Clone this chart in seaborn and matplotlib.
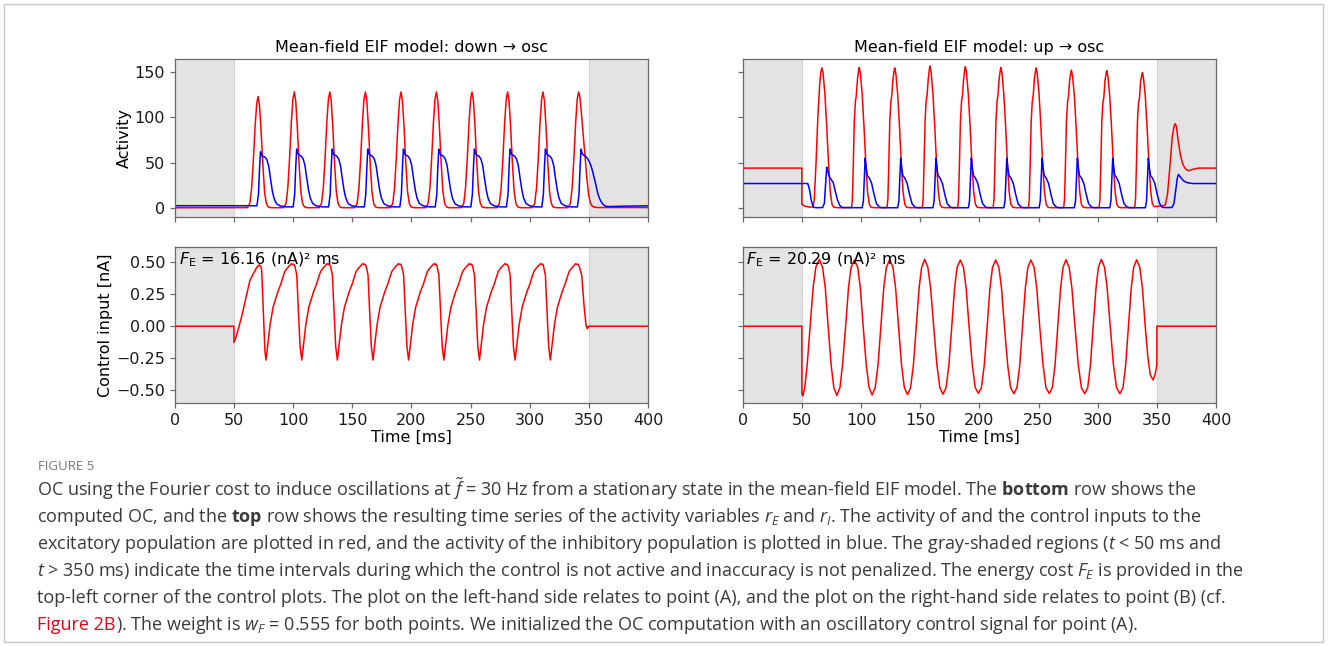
import matplotlib.pyplot as plt
import seaborn as sns
from matplotlib.patches import Rectangle

# ---------------- data (time in ms) ----------------
# top-left: excitatory activity r_E (red), down -> osc
eL_t = [0, 61.4, 63.4, 64.9, 66.4, 67.9, 69.2, 70.4, 71.6, 72.9, 74.4, 75.9, 77.4, 78.9, 81.4,
        92.0, 94.0, 95.5, 97.0, 98.5, 99.8, 101.0, 102.2, 103.5, 105.0, 106.5, 108.0, 109.5, 112.0,
        122.0, 124.0, 125.5, 127.0, 128.5, 129.8, 131.0, 132.2, 133.5, 135.0, 136.5, 138.0, 139.5, 142.0,
        152.1, 154.1, 155.6, 157.1, 158.6, 159.9, 161.1, 162.3, 163.6, 165.1, 166.6, 168.1, 169.6, 172.1,
        182.2, 184.2, 185.7, 187.2, 188.7, 190.0, 191.2, 192.4, 193.7, 195.2, 196.7, 198.2, 199.7, 202.2,
        212.1, 214.1, 215.6, 217.1, 218.6, 219.9, 221.1, 222.3, 223.6, 225.1, 226.6, 228.1, 229.6, 232.1,
        242.2, 244.2, 245.7, 247.2, 248.7, 250.0, 251.2, 252.4, 253.7, 255.2, 256.7, 258.2, 259.7, 262.2,
        272.3, 274.3, 275.8, 277.3, 278.8, 280.1, 281.3, 282.5, 283.8, 285.3, 286.8, 288.3, 289.8, 292.3,
        302.2, 304.2, 305.7, 307.2, 308.7, 310.0, 311.2, 312.4, 313.7, 315.2, 316.7, 318.2, 319.7, 322.2,
        332.3, 334.3, 335.8, 337.3, 338.8, 340.1, 341.3, 342.5, 343.8, 345.3, 346.8, 348.3, 349.8, 351.3,
        353.0, 355.0, 358.0, 400]
eL_v = [0.3, 0.4, 5, 21, 53, 91, 115, 123, 113, 86, 48, 17, 5, 1.2, 0.3,
        0.4, 5, 22, 55, 95, 120, 128, 118, 90, 50, 18, 5, 1.2, 0.3,
        0.4, 5, 22, 55, 95, 120, 128, 118, 90, 50, 18, 5, 1.2, 0.3,
        0.4, 5, 22, 55, 95, 120, 128, 118, 90, 50, 18, 5, 1.2, 0.3,
        0.4, 5, 22, 55, 95, 120, 128, 118, 90, 50, 18, 5, 1.2, 0.3,
        0.4, 5, 22, 55, 95, 120, 128, 118, 90, 50, 18, 5, 1.2, 0.3,
        0.4, 5, 22, 55, 95, 120, 128, 118, 90, 50, 18, 5, 1.2, 0.3,
        0.4, 5, 22, 55, 95, 120, 128, 118, 90, 50, 18, 5, 1.2, 0.3,
        0.4, 5, 22, 55, 95, 120, 128, 118, 90, 50, 18, 5, 1.2, 0.3,
        0.4, 5, 22, 55, 95, 120, 128, 121, 102, 78, 56, 32, 14, 5,
        1.8, 0.8, 0.5, 0.5]

# top-left: inhibitory activity r_I (blue)
iL_t = [0, 69.4, 70.7, 71.6, 72.4, 73.4, 74.4, 76.4, 77.9, 79.4, 80.9, 82.4, 83.9, 85.9, 88.9, 93.4,
        100.0, 101.3, 102.2, 103.0, 104.0, 105.0, 107.0, 108.5, 110.0, 111.5, 113.0, 114.5, 116.5, 119.5, 124.0,
        130.0, 131.3, 132.2, 133.0, 134.0, 135.0, 137.0, 138.5, 140.0, 141.5, 143.0, 144.5, 146.5, 149.5, 154.0,
        160.1, 161.4, 162.3, 163.1, 164.1, 165.1, 167.1, 168.6, 170.1, 171.6, 173.1, 174.6, 176.6, 179.6, 184.1,
        190.2, 191.5, 192.4, 193.2, 194.2, 195.2, 197.2, 198.7, 200.2, 201.7, 203.2, 204.7, 206.7, 209.7, 214.2,
        220.1, 221.4, 222.3, 223.1, 224.1, 225.1, 227.1, 228.6, 230.1, 231.6, 233.1, 234.6, 236.6, 239.6, 244.1,
        250.2, 251.5, 252.4, 253.2, 254.2, 255.2, 257.2, 258.7, 260.2, 261.7, 263.2, 264.7, 266.7, 269.7, 274.2,
        280.3, 281.6, 282.5, 283.3, 284.3, 285.3, 287.3, 288.8, 290.3, 291.8, 293.3, 294.8, 296.8, 299.8, 304.3,
        310.2, 311.5, 312.4, 313.2, 314.2, 315.2, 317.2, 318.7, 320.2, 321.7, 323.2, 324.7, 326.7, 329.7, 334.2,
        340.3, 341.6, 342.5, 343.3, 344.3, 345.3, 347.3, 348.8, 350.3, 351.3, 352.8, 354.3, 355.8, 357.3,
        358.8, 360.3, 362.3, 364.3, 366.3, 380.0, 400]
iL_v = [2.5, 2.5, 15, 43, 62, 58, 57, 56, 53, 46, 32, 19, 10.5, 4.8, 2.4, 1.3,
        1.2, 15, 45, 65, 60, 58.5, 57, 54, 47, 33, 20, 11, 5, 2.5, 1.3,
        1.2, 15, 45, 65, 60, 58.5, 57, 54, 47, 33, 20, 11, 5, 2.5, 1.3,
        1.2, 15, 45, 65, 60, 58.5, 57, 54, 47, 33, 20, 11, 5, 2.5, 1.3,
        1.2, 15, 45, 65, 60, 58.5, 57, 54, 47, 33, 20, 11, 5, 2.5, 1.3,
        1.2, 15, 45, 65, 60, 58.5, 57, 54, 47, 33, 20, 11, 5, 2.5, 1.3,
        1.2, 15, 45, 65, 60, 58.5, 57, 54, 47, 33, 20, 11, 5, 2.5, 1.3,
        1.2, 15, 45, 65, 60, 58.5, 57, 54, 47, 33, 20, 11, 5, 2.5, 1.3,
        1.2, 15, 45, 65, 60, 58.5, 57, 54, 47, 33, 20, 11, 5, 2.5, 1.3,
        1.2, 15, 45, 65, 60, 58.5, 57, 54.5, 51, 48, 42, 34, 26, 17,
        11, 7, 3.5, 1.8, 1.6, 2.0, 2.4]

# top-right: r_E (red), up -> osc
eR_t = [0, 50.0, 50.02, 52.5, 56.0, 59.5, 60.5, 62.0, 63.5, 65.0, 66.0, 67.0, 68.0, 69.5, 71.0, 72.5, 74.0, 75.5, 77.0, 80.0,
        92.0, 92.7, 93.5, 94.3, 95.2, 96.0, 97.0, 98.0, 98.5, 99.5, 101.0, 102.5, 104.0, 105.5, 107.0, 108.5, 111.5,
        122.0, 122.7, 123.5, 124.3, 125.2, 126.0, 127.0, 128.0, 128.5, 129.5, 131.0, 132.5, 134.0, 135.5, 137.0, 138.5, 141.5,
        151.8, 152.5, 153.3, 154.1, 155.0, 155.8, 156.8, 157.8, 158.3, 159.3, 160.8, 162.3, 163.8, 165.3, 166.8, 168.3, 171.3,
        181.7, 182.4, 183.2, 184.0, 184.9, 185.7, 186.7, 187.7, 188.2, 189.2, 190.7, 192.2, 193.7, 195.2, 196.7, 198.2, 201.2,
        211.7, 212.4, 213.2, 214.0, 214.9, 215.7, 216.7, 217.7, 218.2, 219.2, 220.7, 222.2, 223.7, 225.2, 226.7, 228.2, 231.2,
        241.5, 242.2, 243.0, 243.8, 244.7, 245.5, 246.5, 247.5, 248.0, 249.0, 250.5, 252.0, 253.5, 255.0, 256.5, 258.0, 261.0,
        271.3, 272.0, 272.8, 273.6, 274.5, 275.3, 276.3, 277.3, 277.8, 278.8, 280.3, 281.8, 283.3, 284.8, 286.3, 287.8, 290.8,
        301.2, 301.9, 302.7, 303.5, 304.4, 305.2, 306.2, 307.2, 307.7, 308.7, 310.2, 311.7, 313.2, 314.7, 316.2, 317.7, 320.7,
        331.3, 332.0, 332.8, 333.6, 334.5, 335.3, 336.3, 337.3, 337.8, 338.8, 340.3, 341.8, 343.3, 344.8, 346.3,
        348.0, 350.0, 354.0, 357.0, 359.0, 361.0, 363.0, 364.5, 365.5, 366.5, 368.0, 370.0, 372.0, 374.0, 376.5,
        380.0, 385.0, 400]
eR_v = [44, 44, 4, 2, 1, 1.2, 10, 50, 100, 135, 150, 154.5, 148, 125, 90, 50, 18, 4, 1, 0.3,
        0.5, 10, 50, 95, 117, 124, 142, 152, 155, 148, 125, 90, 50, 18, 4, 0.8, 0.3,
        0.5, 10, 50, 95, 117, 124, 142, 151.5, 154.5, 147.5, 125, 90, 50, 18, 4, 0.8, 0.3,
        0.5, 10, 50, 95, 117, 124, 142, 153.5, 156.5, 149.5, 125, 90, 50, 18, 4, 0.8, 0.3,
        0.5, 10, 50, 95, 117, 124, 142, 153, 156, 149, 125, 90, 50, 18, 4, 0.8, 0.3,
        0.5, 10, 50, 95, 117, 124, 142, 152, 155, 148, 125, 90, 50, 18, 4, 0.8, 0.3,
        0.5, 10, 50, 95, 117, 124, 142, 151.5, 154.5, 147.5, 125, 90, 50, 18, 4, 0.8, 0.3,
        0.5, 10, 50, 95, 116, 123, 141, 149, 152, 145, 124, 89, 50, 18, 4, 0.8, 0.3,
        0.5, 10, 50, 95, 116, 122, 141, 148.5, 151.5, 144.5, 123, 89, 50, 18, 4, 0.8, 0.3,
        0.5, 10, 50, 95, 115, 121, 140, 146.5, 149.5, 142.5, 122, 88, 50, 18, 4,
        1.5, 1.8, 2.2, 3, 15, 45, 78, 90, 93, 90, 75, 58, 48, 43.5, 41,
        42.5, 44, 44]

# top-right: r_I (blue)
iR_t = [0, 55.0, 56.5, 58.0, 59.8, 62.0, 67.5, 69.0, 70.0, 71.0, 72.0, 73.5, 75.0, 76.5, 78.0, 80.0, 82.0, 84.0,
        101.0, 102.0, 102.7, 103.5, 104.3, 105.3, 107.0, 109.0, 111.0, 113.0, 115.5, 117.5,
        131.0, 132.0, 132.7, 133.5, 134.3, 135.3, 137.0, 139.0, 141.0, 143.0, 145.5, 147.5,
        160.8, 161.8, 162.5, 163.3, 164.1, 165.1, 166.8, 168.8, 170.8, 172.8, 175.3, 177.3,
        190.7, 191.7, 192.4, 193.2, 194.0, 195.0, 196.7, 198.7, 200.7, 202.7, 205.2, 207.2,
        220.7, 221.7, 222.4, 223.2, 224.0, 225.0, 226.7, 228.7, 230.7, 232.7, 235.2, 237.2,
        250.5, 251.5, 252.2, 253.0, 253.8, 254.8, 256.5, 258.5, 260.5, 262.5, 265.0, 267.0,
        280.3, 281.3, 282.0, 282.8, 283.6, 284.6, 286.3, 288.3, 290.3, 292.3, 294.8, 296.8,
        310.2, 311.2, 311.9, 312.7, 313.5, 314.5, 316.2, 318.2, 320.2, 322.2, 324.7, 326.7,
        340.3, 341.3, 342.0, 342.8, 343.6, 344.6, 346.3, 348.3, 350.3, 352.3, 354.5, 356.0,
        362.7, 364.5, 366.0, 367.3, 368.3, 370.0, 372.5, 375.5, 380.0, 400]
iR_v = [27, 27, 20, 8, 0.8, 0.3, 0.5, 5, 25, 45, 40, 34, 31, 28, 20, 9, 3, 0.5,
        0.3, 8, 30, 55, 45, 36, 33, 27, 15, 5, 1, 0.3,
        0.3, 8, 30, 55, 45, 36, 33, 27, 15, 5, 1, 0.3,
        0.3, 8, 30, 55, 45, 36, 33, 27, 15, 5, 1, 0.3,
        0.3, 8, 30, 55, 45, 36, 33, 27, 15, 5, 1, 0.3,
        0.3, 8, 30, 55, 45, 36, 33, 27, 15, 5, 1, 0.3,
        0.3, 8, 30, 55, 45, 36, 33, 27, 15, 5, 1, 0.3,
        0.3, 8, 30, 55, 45, 36, 33, 27, 15, 5, 1, 0.3,
        0.3, 8, 30, 55, 45, 36, 33, 27, 15, 5, 1, 0.3,
        0.3, 8, 30, 55, 45, 36, 33, 27, 15, 5, 1, 0.5,
        0.5, 5, 20, 33, 37, 34, 30, 28, 27, 27]

# bottom-left: control input to E [nA]
uL_t = [0, 49.95, 50.0, 52.3, 56.5, 60.7, 63.5, 66.3, 69.2, 71.4, 72.5, 73.4, 74.8, 76.2, 77.1,
        78.5, 80.5, 83.1, 87.1, 89.6, 91.6, 93.1, 95.1, 97.1, 98.6, 99.6, 100.6, 101.6, 103.1, 104.5, 105.9, 107.3,
        108.7, 110.7, 113.3, 117.3, 119.8, 121.8, 123.3, 125.3, 127.3, 128.8, 129.8, 130.8, 131.7, 133.2, 134.6, 136.0, 137.4,
        138.8, 140.8, 143.4, 147.4, 149.9, 151.9, 153.4, 155.4, 157.4, 158.9, 159.9, 160.9, 161.8, 163.3, 164.7, 166.1, 167.5,
        168.9, 170.9, 173.5, 177.5, 180.0, 182.0, 183.5, 185.5, 187.5, 189.0, 190.0, 191.0, 191.9, 193.4, 194.8, 196.2, 197.6,
        199.0, 201.0, 203.6, 207.6, 210.1, 212.1, 213.6, 215.6, 217.6, 219.1, 220.1, 221.1, 221.7, 223.2, 224.6, 226.0, 227.4,
        228.8, 230.8, 233.4, 237.4, 239.9, 241.9, 243.4, 245.4, 247.4, 248.9, 249.9, 250.9, 251.8, 253.3, 254.7, 256.1, 257.5,
        258.9, 260.9, 263.5, 267.5, 270.0, 272.0, 273.5, 275.5, 277.5, 279.0, 280.0, 281.0, 281.9, 283.4, 284.8, 286.2, 287.6,
        289.0, 291.0, 293.6, 297.6, 300.1, 302.1, 303.6, 305.6, 307.6, 309.1, 310.1, 311.1, 311.7, 313.2, 314.6, 316.0, 317.4,
        318.8, 320.8, 323.4, 327.4, 329.9, 331.9, 333.4, 335.4, 337.4, 338.9, 339.9, 340.9, 341.9, 343.9, 345.8, 347.5,
        348.6, 349.8, 400]
uL_v = [0, 0, -0.127, -0.068, 0.075, 0.245, 0.36, 0.41, 0.46, 0.48, 0.47, 0.44, 0.11, -0.2, -0.265,
        -0.15, 0.01, 0.15, 0.27, 0.33, 0.39, 0.43, 0.455, 0.475, 0.49, 0.482, 0.485, 0.465, 0.40, 0.11, -0.16, -0.265,
        -0.15, 0.01, 0.15, 0.27, 0.33, 0.39, 0.43, 0.455, 0.475, 0.49, 0.482, 0.485, 0.465, 0.40, 0.11, -0.16, -0.265,
        -0.15, 0.01, 0.15, 0.27, 0.33, 0.39, 0.43, 0.455, 0.475, 0.49, 0.482, 0.485, 0.465, 0.40, 0.11, -0.16, -0.265,
        -0.15, 0.01, 0.15, 0.27, 0.33, 0.39, 0.43, 0.455, 0.475, 0.49, 0.482, 0.485, 0.465, 0.40, 0.11, -0.16, -0.265,
        -0.15, 0.01, 0.15, 0.27, 0.33, 0.39, 0.43, 0.455, 0.475, 0.49, 0.482, 0.485, 0.465, 0.40, 0.11, -0.16, -0.265,
        -0.15, 0.01, 0.15, 0.27, 0.33, 0.39, 0.43, 0.455, 0.475, 0.49, 0.482, 0.485, 0.465, 0.40, 0.11, -0.16, -0.265,
        -0.15, 0.01, 0.15, 0.27, 0.33, 0.39, 0.43, 0.455, 0.475, 0.49, 0.482, 0.485, 0.465, 0.40, 0.11, -0.16, -0.265,
        -0.15, 0.01, 0.15, 0.27, 0.33, 0.39, 0.43, 0.455, 0.475, 0.49, 0.482, 0.485, 0.465, 0.40, 0.11, -0.16, -0.265,
        -0.15, 0.01, 0.15, 0.27, 0.33, 0.39, 0.43, 0.455, 0.475, 0.49, 0.482, 0.485, 0.465, 0.40, 0.166, 0.01,
        -0.02, 0.0, 0.0]

# bottom-right: control input to E [nA]
uR_t = [0, 50.0, 50.05, 50.8, 52.5, 54.5, 57.0, 59.5, 61.8, 64.8, 67.5, 69.8, 72.2, 74.7, 77.0, 79.6,
        82.2, 84.4, 87.0, 89.4, 91.6, 94.4, 97.2, 99.4, 101.8, 104.4, 106.8, 109.4,
        112.0, 114.4, 116.8, 119.2, 121.4, 124.2, 127.0, 129.2, 131.7, 134.2, 136.6, 139.3,
        141.9, 144.3, 146.7, 149.1, 151.2, 153.8, 156.5, 158.8, 161.4, 164.1, 166.6, 169.3,
        171.9, 174.3, 176.7, 179.1, 181.2, 183.9, 186.6, 188.8, 191.3, 194.0, 196.5, 199.2,
        201.8, 204.2, 206.6, 209.0, 211.1, 213.8, 216.5, 218.7, 221.2, 223.9, 226.4, 229.2,
        231.8, 234.2, 236.5, 238.9, 241.0, 243.6, 246.3, 248.5, 251.0, 253.8, 256.3, 259.1,
        261.7, 264.0, 266.3, 268.7, 270.7, 273.2, 275.9, 278.2, 280.8, 283.6, 286.2, 289.0,
        291.6, 293.9, 296.2, 298.6, 300.6, 303.1, 305.8, 308.0, 310.6, 313.3, 315.9, 318.8,
        321.4, 323.7, 326.0, 328.4, 330.4, 332.9, 335.6, 337.8, 340.2, 342.5, 344.5, 346.8,
        348.5, 350.0, 350.02, 400]
uR_v = [0, 0, -0.53, -0.545, -0.48, -0.3, 0.0, 0.3, 0.46, 0.523, 0.46, 0.3, 0.0, -0.3, -0.48, -0.542,
        -0.48, -0.3, 0.0, 0.3, 0.46, 0.518, 0.46, 0.3, 0.0, -0.3, -0.48, -0.538,
        -0.48, -0.3, 0.0, 0.3, 0.46, 0.52, 0.46, 0.3, 0.0, -0.3, -0.48, -0.535,
        -0.48, -0.3, 0.0, 0.3, 0.46, 0.523, 0.46, 0.3, 0.0, -0.3, -0.48, -0.532,
        -0.48, -0.3, 0.0, 0.3, 0.46, 0.518, 0.46, 0.3, 0.0, -0.3, -0.48, -0.525,
        -0.48, -0.3, 0.0, 0.3, 0.46, 0.518, 0.46, 0.3, 0.0, -0.3, -0.48, -0.528,
        -0.48, -0.3, 0.0, 0.3, 0.46, 0.518, 0.46, 0.3, 0.0, -0.3, -0.48, -0.527,
        -0.48, -0.3, 0.0, 0.3, 0.46, 0.52, 0.46, 0.3, 0.0, -0.3, -0.48, -0.528,
        -0.48, -0.3, 0.0, 0.3, 0.46, 0.523, 0.46, 0.3, 0.0, -0.3, -0.48, -0.528,
        -0.48, -0.3, 0.0, 0.3, 0.46, 0.52, 0.46, 0.3, 0.0, -0.25, -0.38, -0.42,
        -0.38, -0.3, 0.0, 0.0]

titles = ["Mean-field EIF model: down \u2192 osc", "Mean-field EIF model: up \u2192 osc"]
cost_labels = [r"$F_\mathrm{E}$ = 16.16 (nA)² ms", r"$F_\mathrm{E}$ = 20.29 (nA)² ms"]
x_ticks = [0, 50, 100, 150, 200, 250, 300, 350, 400]

caption_lines = [
    r"OC using the Fourier cost to induce oscillations at $\tilde{f}$ = 30 Hz from a stationary state in the mean-field EIF model. The $\mathbf{bottom}$ row shows the",
    r"computed OC, and the $\mathbf{top}$ row shows the resulting time series of the activity variables $r_E$ and $r_I$. The activity of and the control inputs to the",
    r"excitatory population are plotted in red, and the activity of the inhibitory population is plotted in blue. The gray-shaded regions ($t$ < 50 ms and",
    r"$t$ > 350 ms) indicate the time intervals during which the control is not active and inaccuracy is not penalized. The energy cost $F_E$ is provided in the",
    r"top-left corner of the control plots. The plot on the left-hand side relates to point (A), and the plot on the right-hand side relates to point (B) (cf.",
]
caption_last_red = "Figure 2B"
caption_last = r"). The weight is $w_F$ = 0.555 for both points. We initialized the OC computation with an oscillatory control signal for point (A)."

# ---------------- figure ----------------
plt.rcParams['mathtext.rm'] = 'Open Sans'
plt.rcParams['mathtext.it'] = 'Open Sans:italic'
plt.rcParams['mathtext.bf'] = 'Open Sans:bold'

W, H = 1328, 646
fig = plt.figure(figsize=(W / 100, H / 100), dpi=100)
fig.patch.set_facecolor('white')


def px_axes(x0, y0, x1, y1):
    # pixel box (top-left origin) -> figure axes
    return fig.add_axes([x0 / W, 1 - y1 / H, (x1 - x0) / W, (y1 - y0) / H])


axTL = px_axes(174.8, 59.3, 648.1, 216.7)
axTR = px_axes(742.7, 59.3, 1216.0, 216.7)
axBL = px_axes(174.8, 246.7, 648.1, 403.3)
axBR = px_axes(742.7, 246.7, 1216.0, 403.3)

FS = 11.5
for ax in (axTL, axTR, axBL, axBR):
    ax.axvspan(0, 50, facecolor='#e3e3e3', edgecolor='none', zorder=0)
    ax.axvspan(350, 400, facecolor='#e3e3e3', edgecolor='none', zorder=0)
    ax.axvline(50, color='#d2d2d2', lw=0.8, zorder=0.5)
    ax.axvline(350, color='#d2d2d2', lw=0.8, zorder=0.5)
    ax.set_xlim(0, 400)
    ax.set_xticks(x_ticks)
    for s in ax.spines.values():
        s.set_color('#6a6a6a')
        s.set_linewidth(0.9)
    ax.tick_params(colors='#6a6a6a', labelcolor='#1a1a1a', labelsize=FS, width=0.9, length=3.5)

LW = 1.1
sns.lineplot(x=eL_t, y=eL_v, ax=axTL, color='red', lw=LW, sort=False, estimator=None)
sns.lineplot(x=iL_t, y=iL_v, ax=axTL, color='blue', lw=LW, sort=False, estimator=None)
sns.lineplot(x=eR_t, y=eR_v, ax=axTR, color='red', lw=LW, sort=False, estimator=None)
sns.lineplot(x=iR_t, y=iR_v, ax=axTR, color='blue', lw=LW, sort=False, estimator=None)
sns.lineplot(x=uL_t, y=uL_v, ax=axBL, color='red', lw=LW, sort=False, estimator=None)
sns.lineplot(x=uR_t, y=uR_v, ax=axBR, color='red', lw=LW, sort=False, estimator=None)

for ax in (axTL, axTR):
    ax.set_ylim(-9.6, 164)
    ax.set_yticks([0, 50, 100, 150])
    ax.set_xticklabels([])
for ax in (axBL, axBR):
    ax.set_ylim(-0.603, 0.622)
    ax.set_yticks([-0.5, -0.25, 0, 0.25, 0.5])
    ax.set_xlabel("Time [ms]", fontsize=FS, labelpad=1)
axBL.set_yticklabels(["\u22120.50", "\u22120.25", "0.00", "0.25", "0.50"])
axTR.set_yticklabels([])
axBR.set_yticklabels([])
axTL.set_ylabel("Activity", fontsize=FS, labelpad=2)
axBL.set_ylabel("Control input [nA]", fontsize=FS, labelpad=2)

axTL.set_title(titles[0], fontsize=FS, pad=5)
axTR.set_title(titles[1], fontsize=FS, pad=5)
axBL.text(0.008, 0.975, cost_labels[0], transform=axBL.transAxes, ha='left', va='top',
          fontsize=FS, math_fontfamily='dejavusans')
axBR.text(0.008, 0.975, cost_labels[1], transform=axBR.transAxes, ha='left', va='top',
          fontsize=FS, math_fontfamily='dejavusans')

# ---------------- caption block ----------------
fig.patches.append(Rectangle((4 / W, 1 - 642 / H), 1319 / W, 638 / H, transform=fig.transFigure,
                             fill=False, edgecolor='#c8c8c8', lw=1.0))
cap_kw = dict(fontsize=13.0, color='#3a3a3a', family='Open Sans', math_fontfamily='custom', va='baseline')
fig.text(38 / W, 1 - 470 / H, "FIGURE 5", fontsize=9.5, color='#7a7a7a', family='Open Sans', va='baseline')
baselines = [495.5, 522, 549, 576.5, 603, 630]
for line, yb in zip(caption_lines, baselines):
    fig.text(37 / W, 1 - yb / H, line, **cap_kw)
red_txt = fig.text(37 / W, 1 - baselines[5] / H, caption_last_red,
                   **{**cap_kw, 'color': '#e2001a'})
fig.canvas.draw()
bb = red_txt.get_window_extent(fig.canvas.get_renderer())
fig.text(bb.x1 / W, 1 - baselines[5] / H, caption_last, **cap_kw)

fig.savefig("out.png", dpi=100, facecolor='white')
